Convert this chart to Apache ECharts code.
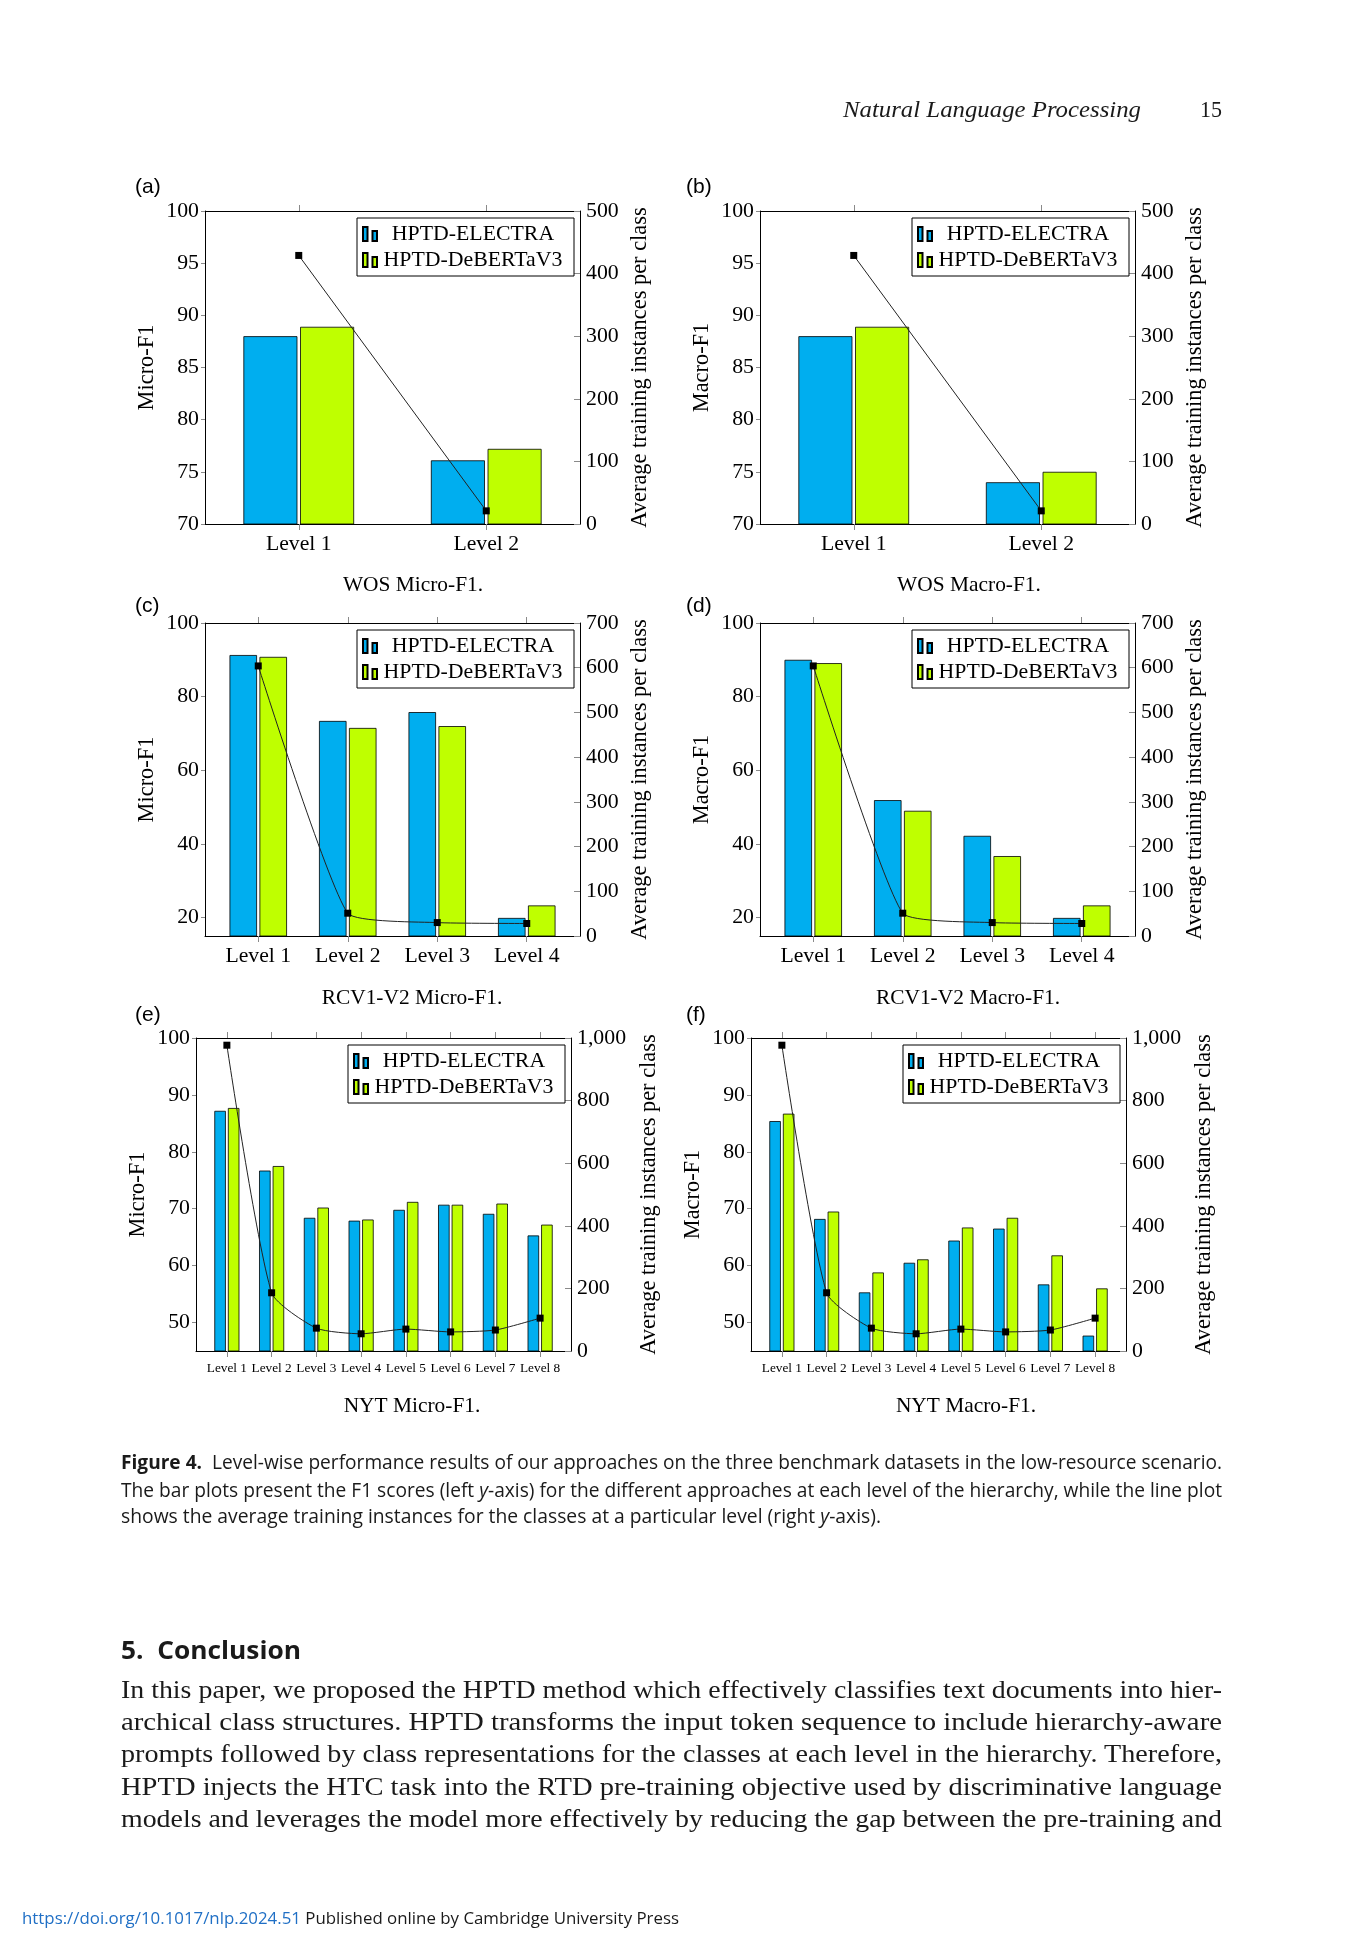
<!DOCTYPE html>
<html><head><meta charset="utf-8">
<script src="https://cdn.jsdelivr.net/npm/echarts@6/dist/echarts.min.js"></script>
<style>
html,body{margin:0;padding:0;background:#fff;}
#page{position:relative;width:1370px;height:1944px;overflow:hidden;background:#fff;}
#chart{position:absolute;left:0;top:0;width:1370px;height:1944px;}
.t{position:absolute;white-space:nowrap;transform-origin:0 50%;display:inline-block;color:#1a1a1a;}
.serif{font-family:"Liberation Serif","DejaVu Serif",serif;}
.sans{font-family:"Open Sans","Noto Sans",sans-serif;}
</style></head><body>
<div id="page">
<div id="chart"></div>
<div class="t serif" style="left:843px;top:95px;font-size:24px;line-height:28px;font-style:italic;" data-w="298">Natural Language Processing</div>
<div class="t serif" style="left:1200px;top:95px;font-size:24px;line-height:28px;" data-w="22">15</div>

<div class="t sans" style="left:121px;top:1450px;font-size:20px;line-height:24px;" data-w="1101"><b>Figure 4.</b>&nbsp;&nbsp;Level-wise performance results of our approaches on the three benchmark datasets in the low-resource scenario.</div>
<div class="t sans" style="left:121px;top:1478px;font-size:20px;line-height:24px;" data-w="1101">The bar plots present the F1 scores (left <i>y</i>-axis) for the different approaches at each level of the hierarchy, while the line plot</div>
<div class="t sans" style="left:121px;top:1504px;font-size:20px;line-height:24px;" data-w="760">shows the average training instances for the classes at a particular level (right <i>y</i>-axis).</div>

<div class="t sans" style="left:121px;top:1634px;font-size:25px;line-height:30px;font-weight:bold;" data-w="180">5.&nbsp; Conclusion</div>
<div class="t serif" style="left:121px;top:1676px;font-size:25.5px;line-height:28px;" data-w="1101">In this paper, we proposed the HPTD method which effectively classifies text documents into hier-</div>
<div class="t serif" style="left:121px;top:1708px;font-size:25.5px;line-height:28px;" data-w="1101">archical class structures. HPTD transforms the input token sequence to include hierarchy-aware</div>
<div class="t serif" style="left:121px;top:1740px;font-size:25.5px;line-height:28px;" data-w="1101">prompts followed by class representations for the classes at each level in the hierarchy. Therefore,</div>
<div class="t serif" style="left:121px;top:1773px;font-size:25.5px;line-height:28px;" data-w="1101">HPTD injects the HTC task into the RTD pre-training objective used by discriminative language</div>
<div class="t serif" style="left:121px;top:1805px;font-size:25.5px;line-height:28px;" data-w="1101">models and leverages the model more effectively by reducing the gap between the pre-training and</div>

<div class="t sans" style="left:22px;top:1907px;font-size:17px;line-height:22px;" data-w="657"><span style="color:#1f6fc5;">https://doi.org/10.1017/nlp.2024.51</span> Published online by Cambridge University Press</div>
</div>
<script>
// ---------- data ----------
const catsWOS = ['Level 1', 'Level 2'];
const catsRCV = ['Level 1', 'Level 2', 'Level 3', 'Level 4'];
const catsNYT = ['Level 1', 'Level 2', 'Level 3', 'Level 4', 'Level 5', 'Level 6', 'Level 7', 'Level 8'];

const wosMicroElectra = [88.0, 76.1];
const wosMicroDeberta = [88.9, 77.2];
const wosMacroElectra = [88.0, 74.0];
const wosMacroDeberta = [88.9, 75.0];
const wosInstances = [429, 21];

const rcvMicroElectra = [91.3, 73.4, 75.8, 19.9];
const rcvMicroDeberta = [90.8, 71.5, 72.0, 23.3];
const rcvMacroElectra = [90.0, 51.9, 42.2, 19.9];
const rcvMacroDeberta = [89.1, 49.0, 36.7, 23.3];
const rcvInstances = [604, 51, 30, 28];

const nytMicroElectra = [87.2, 76.7, 68.4, 67.9, 69.8, 70.7, 69.1, 65.3];
const nytMicroDeberta = [87.7, 77.5, 70.2, 68.1, 71.2, 70.7, 70.9, 67.2];
const nytMacroElectra = [85.4, 68.2, 55.3, 60.5, 64.4, 66.5, 56.7, 47.7];
const nytMacroDeberta = [86.7, 69.5, 58.8, 61.1, 66.7, 68.4, 61.8, 56.0];
const nytInstances = [977, 186, 73, 55, 70, 61, 67, 105];

const wosF1Ticks = [70, 75, 80, 85, 90, 95, 100];
const wosInstTicks = [0, 100, 200, 300, 400, 500];
const rcvF1Ticks = [20, 40, 60, 80, 100];
const rcvInstTicks = [0, 100, 200, 300, 400, 500, 600, 700];
const nytF1Ticks = [50, 60, 70, 80, 90, 100];
const nytInstTicks = [0, 200, 400, 600, 800, 1000];

const seriesNames = ['HPTD-ELECTRA', 'HPTD-DeBERTaV3'];
const rightAxisName = 'Average training instances per class';

// ---------- styles ----------
const SERIF = '"Liberation Serif", "DejaVu Serif", serif';
const SANS = '"Liberation Sans", Arial, sans-serif';
const BLUE = '#00AEEF';
const GREEN = '#BFFF00';
const TICK = '#8a8a8a';
const TICKFONT = 21.8;

const panels = [
  {grid:{left:205,top:211,width:375,height:313}, cats:catsWOS, xMin:0.5, xMax:2.5, e:wosMicroElectra, d:wosMicroDeberta, inst:wosInstances,
   yName:'Micro-F1', yMin:70, yMax:100, yTicks:wosF1Ticks, rMax:500, rTicks:wosInstTicks, barW:54, barGap:'5%', catFont:21.7, catMargin:9, smooth:false,
   tag:'(a)', tagX:135, tagY:187, cap:'WOS Micro-F1.', capX:413, capY:585, lGap:47, rGap:49},
  {grid:{left:760,top:211,width:375,height:313}, cats:catsWOS, xMin:0.5, xMax:2.5, e:wosMacroElectra, d:wosMacroDeberta, inst:wosInstances,
   yName:'Macro-F1', yMin:70, yMax:100, yTicks:wosF1Ticks, rMax:500, rTicks:wosInstTicks, barW:54, barGap:'5%', catFont:21.7, catMargin:9, smooth:false,
   tag:'(b)', tagX:686, tagY:187, cap:'WOS Macro-F1.', capX:969, capY:585, lGap:47, rGap:49},
  {grid:{left:205,top:623,width:375,height:313}, cats:catsRCV, xMin:0.405, xMax:4.595, e:rcvMicroElectra, d:rcvMicroDeberta, inst:rcvInstances,
   yName:'Micro-F1', yMin:15, yMax:100, yTicks:rcvF1Ticks, rMax:700, rTicks:rcvInstTicks, barW:27.5, barGap:'9%', catFont:21.7, catMargin:9, smooth:0.15,
   tag:'(c)', tagX:135, tagY:606, cap:'RCV1-V2 Micro-F1.', capX:412, capY:998, lGap:47, rGap:49},
  {grid:{left:760,top:623,width:375,height:313}, cats:catsRCV, xMin:0.405, xMax:4.595, e:rcvMacroElectra, d:rcvMacroDeberta, inst:rcvInstances,
   yName:'Macro-F1', yMin:15, yMax:100, yTicks:rcvF1Ticks, rMax:700, rTicks:rcvInstTicks, barW:27.5, barGap:'9%', catFont:21.7, catMargin:9, smooth:0.15,
   tag:'(d)', tagX:686, tagY:606, cap:'RCV1-V2 Macro-F1.', capX:968, capY:998, lGap:47, rGap:49},
  {grid:{left:196,top:1038,width:375,height:313}, cats:catsNYT, xMin:0.31, xMax:8.69, e:nytMicroElectra, d:nytMicroDeberta, inst:nytInstances,
   yName:'Micro-F1', yMin:45, yMax:100, yTicks:nytF1Ticks, rMax:1000, rTicks:nytInstTicks, barW:11.5, barGap:'18%', catFont:13.3, catMargin:11, smooth:0.2,
   tag:'(e)', tagX:135, tagY:1015, cap:'NYT Micro-F1.', capX:412, capY:1406, lGap:47, rGap:67},
  {grid:{left:751,top:1038,width:375,height:313}, cats:catsNYT, xMin:0.31, xMax:8.69, e:nytMacroElectra, d:nytMacroDeberta, inst:nytInstances,
   yName:'Macro-F1', yMin:45, yMax:100, yTicks:nytF1Ticks, rMax:1000, rTicks:nytInstTicks, barW:11.5, barGap:'18%', catFont:13.3, catMargin:11, smooth:0.2,
   tag:'(f)', tagX:686, tagY:1015, cap:'NYT Macro-F1.', capX:966, capY:1406, lGap:47, rGap:67}
];

const option = {animation:false, backgroundColor:'transparent', grid:[], xAxis:[], yAxis:[], series:[], legend:[], graphic:[]};
const axisLine = {show:true, onZero:false, lineStyle:{color:'#000', width:1}};

panels.forEach((p, i) => {
  const xs = p.cats.map((c, k) => k + 1);
  option.grid.push(Object.assign({show:false, containLabel:false}, p.grid));
  const xBase = {type:'value', gridIndex:i, min:p.xMin, max:p.xMax, splitLine:{show:false}, axisLine:axisLine};
  option.xAxis.push(Object.assign({}, xBase, {position:'bottom',
    axisTick:{show:true, inside:false, length:6, customValues:xs, lineStyle:{color:TICK, width:1}},
    axisLabel:{show:true, customValues:xs, formatter:v => p.cats[Math.round(v) - 1], fontSize:p.catFont, fontFamily:SERIF, color:'#000', margin:p.catMargin}}));
  option.xAxis.push(Object.assign({}, xBase, {position:'top',
    axisTick:{show:true, inside:false, length:6, customValues:xs, lineStyle:{color:TICK, width:1}},
    axisLabel:{show:false}}));
  option.yAxis.push({type:'value', gridIndex:i, position:'left', min:p.yMin, max:p.yMax,
    name:p.yName, nameLocation:'middle', nameGap:p.lGap, nameRotate:90,
    nameTextStyle:{fontSize:22.4, fontFamily:SERIF, color:'#000'},
    axisLine:axisLine, splitLine:{show:false},
    axisTick:{show:true, inside:false, length:4, customValues:p.yTicks, lineStyle:{color:TICK, width:1}},
    axisLabel:{customValues:p.yTicks, fontSize:TICKFONT, fontFamily:SERIF, color:'#000', margin:6}});
  option.yAxis.push({type:'value', gridIndex:i, position:'right', min:0, max:p.rMax,
    name:rightAxisName, nameLocation:'middle', nameGap:p.rGap, nameRotate:90,
    nameTextStyle:{fontSize:22.4, fontFamily:SERIF, color:'#000'},
    axisLine:axisLine, splitLine:{show:false},
    axisTick:{show:true, inside:true, length:6, customValues:p.rTicks, lineStyle:{color:TICK, width:1}},
    axisLabel:{customValues:p.rTicks, fontSize:TICKFONT, fontFamily:SERIF, color:'#000', margin:6}});
  const xi = i * 2, yi = i * 2;
  option.series.push({type:'bar', name:seriesNames[0], xAxisIndex:xi, yAxisIndex:yi,
    data:p.e.map((v, k) => [k + 1, v]), barWidth:p.barW, barGap:p.barGap,
    itemStyle:{color:BLUE, borderColor:'#000', borderWidth:0.8}, z:2});
  option.series.push({type:'bar', name:seriesNames[1], xAxisIndex:xi, yAxisIndex:yi,
    data:p.d.map((v, k) => [k + 1, v]), barWidth:p.barW, barGap:p.barGap,
    itemStyle:{color:GREEN, borderColor:'#000', borderWidth:0.8}, z:2});
  option.series.push({type:'line', name:'instances', xAxisIndex:xi, yAxisIndex:yi + 1,
    data:p.inst.map((v, k) => [k + 1, v]), symbol:'rect', symbolSize:7, smooth:p.smooth,
    itemStyle:{color:'#000'}, lineStyle:{color:'#222', width:1}, z:5});
  option.legend.push({data:seriesNames, orient:'vertical',
    left:p.grid.left + p.grid.width - 223, top:p.grid.top + 7,
    backgroundColor:'#fff', borderColor:'#000', borderWidth:1, borderRadius:0,
    padding:[5, 10, 5, 5], itemGap:4, itemWidth:14, itemHeight:14,
    icon:'path://M0,0L4.5,0L4.5,14L0,14Z M9.5,4L14,4L14,14L9.5,14Z',
    formatter:name => '{t|' + name + '}',
    textStyle:{fontSize:TICKFONT, fontFamily:SERIF, color:'#000',
      rich:{t:{width:182, align:'center', fontSize:TICKFONT, fontFamily:SERIF, lineHeight:20, color:'#000'}}},
    selectedMode:false});
  option.graphic.push({type:'text', x:p.tagX, y:p.tagY,
    style:{text:p.tag, fontSize:21, fontFamily:SANS, fill:'#000', align:'left', verticalAlign:'middle'}});
  option.graphic.push({type:'text', x:p.capX, y:p.capY,
    style:{text:p.cap, fontSize:21.4, fontFamily:SERIF, fill:'#000', align:'center', verticalAlign:'middle'}});
});

const chart = echarts.init(document.getElementById('chart'), null, {renderer:'canvas'});
chart.setOption(option);

// fit page text lines to their measured widths
function fitLines() {
  document.querySelectorAll('[data-w]').forEach(el => {
    el.style.transform = 'none';
    const w = el.getBoundingClientRect().width;
    const target = +el.dataset.w;
    if (w > 0) el.style.transform = 'scaleX(' + (target / w) + ')';
  });
}
fitLines();
if (document.fonts && document.fonts.ready) document.fonts.ready.then(fitLines);
</script>
</body></html>
